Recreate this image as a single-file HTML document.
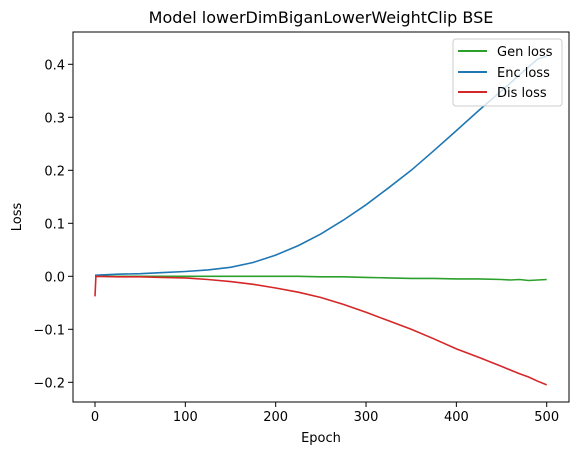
<!DOCTYPE html>
<html><head><meta charset="utf-8"><style>
body{margin:0;background:#fff}
svg{display:block;font-family:"DejaVu Sans","Liberation Sans",sans-serif}
</style></head><body>
<svg id="chart" width="578" height="455">
<text x="321" y="23" font-size="16" text-anchor="middle">Model lowerDimBiganLowerWeightClip BSE</text>
<g id="plot"></g>
<rect x="73" y="32" width="496" height="370" fill="none" stroke="#000" stroke-width="1"/>
<text x="321" y="442" font-size="13" text-anchor="middle">Epoch</text>
<text transform="translate(21,217) rotate(-90)" font-size="13" text-anchor="middle">Loss</text>
<g>
<rect x="453" y="39" width="109" height="67" rx="3" fill="#fff" fill-opacity="0.8" stroke="#ccc"/>
<line x1="458" y1="51" x2="487" y2="51" stroke="#2ca02c" stroke-width="2"/>
<text x="497" y="56" font-size="13">Gen loss</text>
<line x1="458" y1="72" x2="487" y2="72" stroke="#1f77b4" stroke-width="2"/>
<text x="497" y="77" font-size="13">Enc loss</text>
<line x1="458" y1="92" x2="487" y2="92" stroke="#d62728" stroke-width="2"/>
<text x="497" y="97" font-size="13">Dis loss</text>
</g>
</svg>
<script>
const xTicks=[0,100,200,300,400,500];
const yTicks=[-0.2,-0.1,0.0,0.1,0.2,0.3,0.4];
const epochs=[0,1,25,50,75,100,125,150,175,200,225,250,275,300,325,350,375,400,425,450,460,470,480,490,500];
const encLoss=[0.002,0.002,0.004,0.005,0.007,0.009,0.012,0.017,0.026,0.04,0.058,0.08,0.106,0.135,0.167,0.2,0.237,0.275,0.313,0.35,0.365,0.38,0.395,0.41,0.415];
const disLoss=[-0.038,0.0,-0.001,-0.001,-0.002,-0.003,-0.006,-0.01,-0.015,-0.022,-0.03,-0.04,-0.053,-0.068,-0.084,-0.1,-0.118,-0.137,-0.153,-0.17,-0.177,-0.184,-0.19,-0.198,-0.205];
const genLoss=[0.0,0.0,0.0,0.0,0.0,0.0,0.0,0.0,0.0,0.0,0.0,-0.001,-0.001,-0.002,-0.003,-0.004,-0.004,-0.005,-0.005,-0.006,-0.007,-0.006,-0.008,-0.007,-0.006];
const X=v=>95+(v-0)*(546.7-95)/500;
const Y=v=>276.3-v*530;
const svg=document.getElementById('chart');
const plot=document.getElementById('plot');
const NS='http://www.w3.org/2000/svg';
function mk(t,a,p){const e=document.createElementNS(NS,t);for(const k in a)e.setAttribute(k,a[k]);(p||svg).appendChild(e);return e;}
xTicks.forEach(t=>{
 const l=mk('line',{x1:X(t),x2:X(t),y1:402,y2:407,stroke:'#000'});
 
 
 const s=mk('text',{x:X(t),y:421,'font-size':13,'text-anchor':'middle'});
 s.textContent=t;
 
 
});
yTicks.forEach(t=>{
 const l=mk('line',{x1:68,x2:73,y1:Y(t),y2:Y(t),stroke:'#000'});
 
 
 const s=mk('text',{x:65,y:Y(t)+5,'font-size':13,'text-anchor':'end'});
 s.textContent=(t<0?'\u2212':'')+Math.abs(t).toFixed(1);
 
 
});
function line(vals,color,name){
 const d=epochs.map((e,i)=>(i?'L':'M')+X(e).toFixed(1)+','+Y(vals[i]).toFixed(1)).join('');
 const p=mk('path',{d:d,fill:'none',stroke:color,'stroke-width':1.6},plot);
 
 
}
line(genLoss,'#2ca02c','gen-loss-line');
line(encLoss,'#1f77b4','enc-loss-line');
line(disLoss,'#d62728','dis-loss-line');
</script>
</body></html>
